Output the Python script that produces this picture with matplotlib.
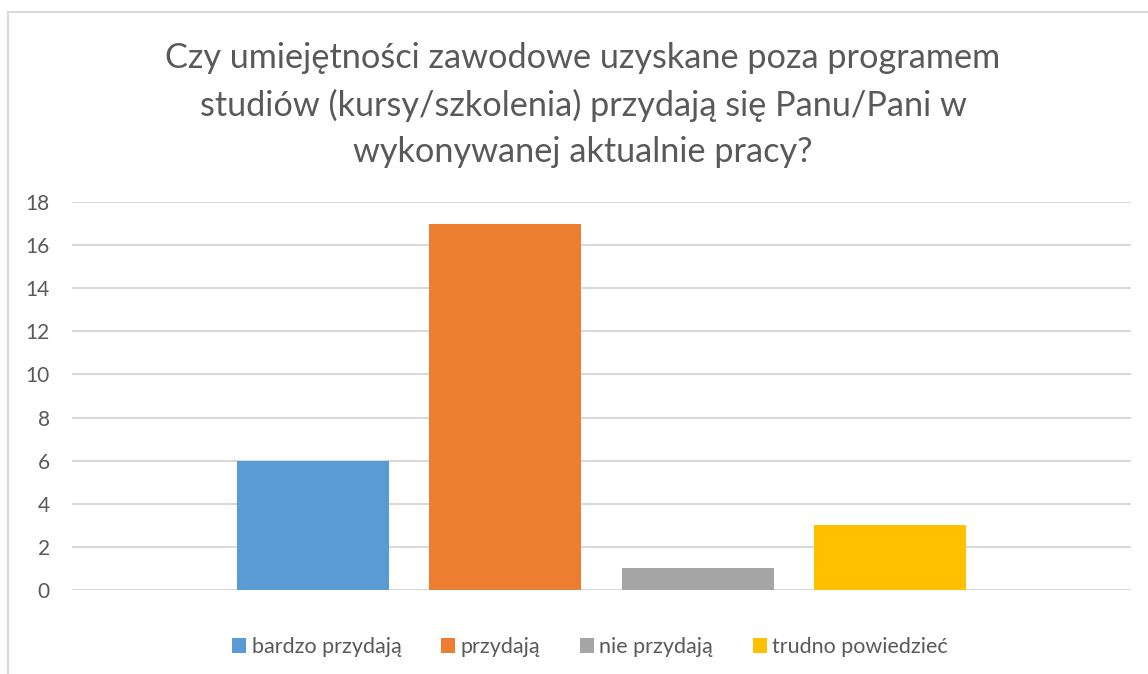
import matplotlib
matplotlib.use("Agg")
import matplotlib.pyplot as plt
from matplotlib.patches import Rectangle

plt.rcParams['font.family'] = ['Lato', 'DejaVu Sans']

categories = ['bardzo przydają', 'przydają', 'nie przydają', 'trudno powiedzieć']
values = [6, 17, 1, 3]
colors = ['#5b9bd5', '#ed7d31', '#a5a5a5', '#ffc000']
yticks = [0, 2, 4, 6, 8, 10, 12, 14, 16, 18]
title = ('Czy umiejętności zawodowe uzyskane poza programem\n'
         'studiów (kursy/szkolenia) przydają się Panu/Pani w\n'
         'wykonywanej aktualnie pracy?')

txt = '#595959'
fig = plt.figure(figsize=(11.48, 6.74), dpi=100)
fig.patches.append(Rectangle((8/1148, -0.1), 1.2, 1 - 12/674 + 0.1, transform=fig.transFigure,
                             fill=False, edgecolor='#d9d9d9', linewidth=1.5))
ax = fig.add_axes([72/1148, 1 - 590/674, 1059/1148, 388/674])

for i, (c, v, col) in enumerate(zip(categories, values, colors)):
    ax.bar(i, v, width=152/192, color=col, label=c, zorder=3)

ax.set_xlim(-241/192, 3 + 241/192)
ax.set_ylim(0, 18)
ax.set_yticks(yticks)
ax.set_xticks([])
ax.grid(axis='y', color='#d9d9d9', linewidth=1.5, zorder=0)
for s in ax.spines.values():
    s.set_visible(False)
ax.tick_params(axis='y', length=0, pad=16, labelsize=15, labelcolor=txt)

fig.text(583/1148, 1 - 42/674, title, ha='center', va='top', fontsize=24.7,
         color=txt, linespacing=1.55)

fig.legend(loc='center', bbox_to_anchor=(590/1148, 1 - 647/674), ncol=4, frameon=False,
           fontsize=15.5, labelcolor=txt, handlelength=0.65, handleheight=0.65,
           handletextpad=0.25, columnspacing=1.85)

fig.savefig('out.png', dpi=100)
